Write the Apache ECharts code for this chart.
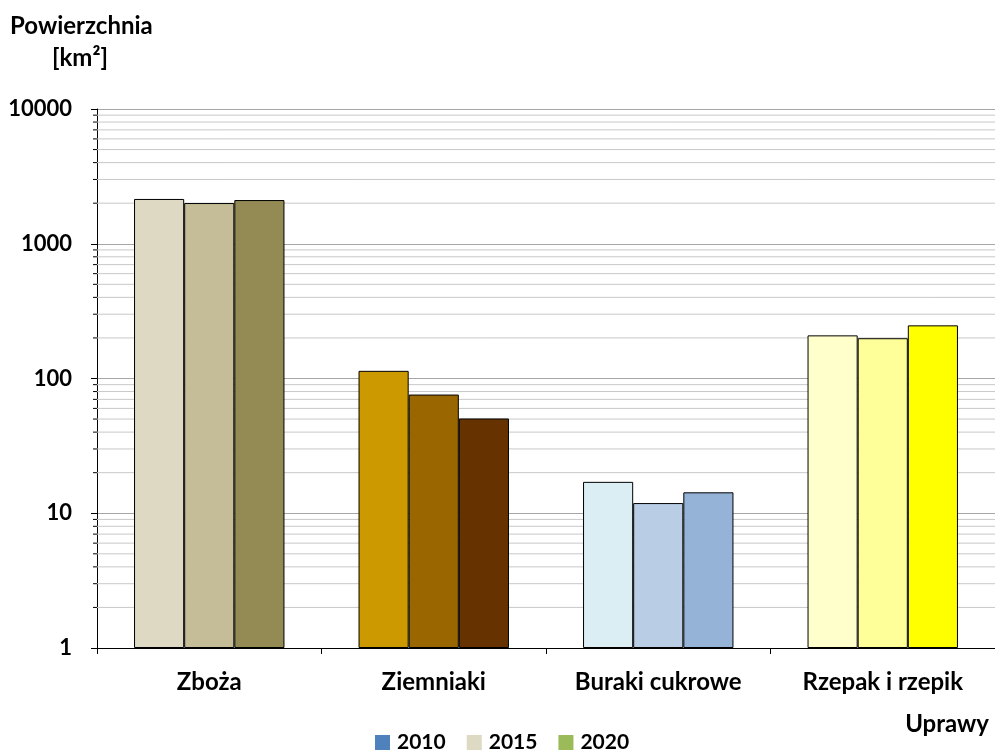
<!DOCTYPE html>
<html><head><meta charset="utf-8">
<script src="https://cdn.jsdelivr.net/npm/echarts@6/dist/echarts.min.js"></script>
<style>html,body{margin:0;padding:0;background:#fff}#c{width:995px;height:751px}</style>
</head><body><div id="c"></div>
<script>
var categories = ['Zboża', 'Ziemniaki', 'Buraki cukrowe', 'Rzepak i rzepik'];
var years = ['2010', '2015', '2020'];
var values2010 = [2150, 114, 17.1, 209];
var values2015 = [2005, 76, 11.9, 199];
var values2020 = [2110, 50.5, 14.3, 248];
var yTicks = [1, 10, 100, 1000, 10000];
var minorValues = [2,3,4,5,6,7,8,9,20,30,40,50,60,70,80,90,200,300,400,500,600,700,800,900,2000,3000,4000,5000,6000,7000,8000,9000];
var legendColors = ['#4F81BD', '#DDD9C3', '#9BBB59'];
var barColors = [
  ['#DDD9C3', '#CC9900', '#DAEEF3', '#FFFFCC'],
  ['#C4BD97', '#996600', '#B9CDE5', '#FFFF99'],
  ['#948A54', '#663300', '#95B3D7', '#FFFF00']
];
var allValues = [values2010, values2015, values2020];
var FONT = 'Lato, "Open Sans", sans-serif';

var chart = echarts.init(document.getElementById('c'));
var series = years.map(function (y, si) {
  return {
    name: y, type: 'bar', z: 3,
    barGap: '0%', barCategoryGap: '33%',
    itemStyle: { color: legendColors[si], borderColor: '#000', borderWidth: 1 },
    data: allValues[si].map(function (v, ci) {
      return { value: v, itemStyle: { color: barColors[si][ci] } };
    })
  };
});
series.push({
  type: 'custom', name: 'minor', z: 1, silent: true,
  data: minorValues.map(function (v) { return [0, v]; }),
  renderItem: function (params, api) {
    var y = api.coord([0, api.value(1)])[1];
    var cs = params.coordSys;
    return { type: 'group', children: [
      { type: 'line', shape: { x1: cs.x, y1: y, x2: cs.x + cs.width, y2: y }, style: { stroke: '#C8C8C8', lineWidth: 1 } },
      { type: 'line', shape: { x1: cs.x - 4, y1: y, x2: cs.x, y2: y }, style: { stroke: '#000', lineWidth: 1 } }
    ] };
  }
});

chart.setOption({
  animation: false,
  textStyle: { fontFamily: FONT },
  grid: { left: 97, right: -4, top: 109, bottom: 103 },
  legend: {
    data: years, bottom: -7, left: 370, icon: 'rect', itemWidth: 15, itemHeight: 15, itemGap: 21,
    itemStyle: { borderWidth: 0 },
    textStyle: { fontFamily: FONT, fontWeight: 'bold', fontSize: 21, color: '#000', padding: [0, 0, 0, 2] }
  },
  graphic: [
    { type: 'text', left: 10, top: 14, style: { text: 'Powierzchnia', font: 'bold 24px ' + FONT, fill: '#000' } },
    { type: 'text', left: 52, top: 46, style: { text: '[km²]', font: 'bold 24px ' + FONT, fill: '#000' } },
    { type: 'text', right: 6, top: 712, style: { text: 'Uprawy', font: 'bold 24px ' + FONT, fill: '#000' } }
  ],
  xAxis: {
    type: 'category', data: categories,
    axisLine: { lineStyle: { color: '#000', width: 1 } },
    axisTick: { show: true, length: 6, alignWithLabel: false, lineStyle: { color: '#000' } },
    axisLabel: { fontFamily: FONT, fontWeight: 'bold', fontSize: 24, color: '#000', margin: 22 }
  },
  yAxis: {
    type: 'log', logBase: 10, min: 1, max: 10000,
    axisLine: { show: true, lineStyle: { color: '#000', width: 1 } },
    axisTick: { show: true, length: 6, lineStyle: { color: '#000' } },
    splitLine: { show: true, lineStyle: { color: '#A6A6A6', width: 1 } },
    axisLabel: { fontFamily: FONT, fontWeight: 'bold', fontSize: 22, color: '#000', margin: 25,
      formatter: function (v) { return String(Math.round(v)); } }
  },
  series: series
});
</script></body></html>
